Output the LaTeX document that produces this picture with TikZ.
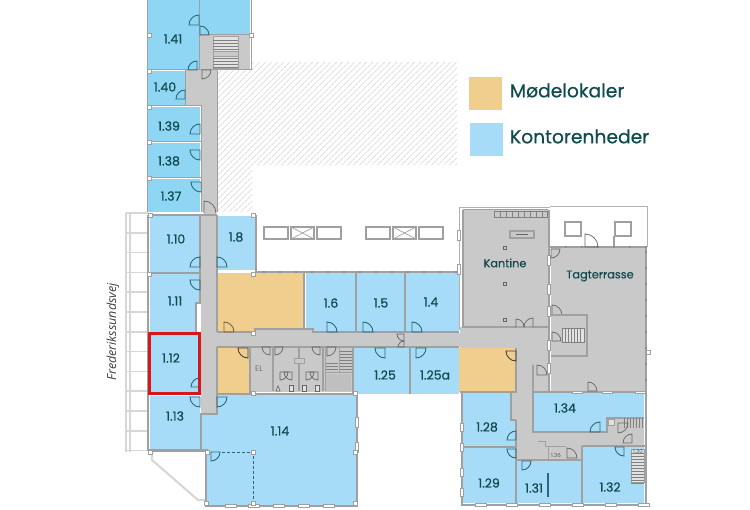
\documentclass[tikz,border=0pt]{standalone}
\usepackage{fontspec}
\setmainfont{Poppins}
\newfontfamily\labelfont{Poppins}[FakeBold=0.5]
\newfontfamily\streetfont{Open Sans}
\usetikzlibrary{patterns.meta}
\definecolor{kontorblue}{HTML}{A6DCF7}
\definecolor{topblue}{HTML}{8FD5F4}
\definecolor{moedeorange}{HTML}{F0CF8E}
\definecolor{floorgrey}{HTML}{C9C9C9}
\definecolor{stairgrey}{HTML}{E2E2E2}
\definecolor{wallgrey}{HTML}{A0A0A0}
\definecolor{railgrey}{HTML}{D6D6D6}
\definecolor{tealtext}{HTML}{0F4A4E}
\definecolor{doorteal}{HTML}{2A6A78}
\definecolor{markred}{HTML}{D8141C}
\tikzset{
	roomlabel/.style={text=tealtext, font=\labelfont\fontsize{12.5}{12.5}\selectfont},
	arealabel/.style={text=tealtext, font=\labelfont\fontsize{11.3}{11.3}\selectfont},
	biglabel/.style={text=tealtext, font=\labelfont\fontsize{18.7}{18.7}\selectfont},
	smalllabel/.style={text=black!65, font=\fontsize{5.5}{5.5}\selectfont},
	wall/.style={draw=wallgrey, line width=1.6pt},
	thinwall/.style={draw=wallgrey, line width=1pt},
	rail/.style={draw=railgrey, line width=1.6pt},
	door/.style={draw=doorteal, line width=0.9pt},
	greydoor/.style={draw=black!60, line width=0.7pt},
	tread/.style={draw=black!50, line width=0.35pt},
	pane/.style={draw=wallgrey, fill=white, line width=0.6pt},
	pillar/.style={draw=wallgrey, fill=white, line width=0.6pt}
}
% corner, start angle, end angle, radius
\def\swing[#1](#2,#3)(#4:#5:#6){\draw[#1] (#2,#3) -- ++(#4:#6) arc (#4:#5:#6) -- cycle;}

\begin{document}
\begin{tikzpicture}[x=1pt,y=-1pt]
	\useasboundingbox[fill=white] (0,0) rectangle (750,510);
	%%%%% HATCHED COURTYARD %%%%%
	\fill[pattern={Lines[angle=45,distance=4pt,line width=1pt]}, pattern color=black!13]
		(252,62) -- (457,62) -- (457,165) -- (252,165) -- (252,212) -- (218,212) -- (218,70) -- (252,70) -- cycle;

	%%%%% LEGEND %%%%%
	\fill[moedeorange] (469,77) rectangle (502,110);
	\fill[kontorblue] (470,123) rectangle (503,156);
	\node[biglabel, anchor=west] (legendmoede) at (506.5,90.5) {Mødelokaler};
	\node[biglabel, anchor=west] (legendkontor) at (506.5,136.5) {Kontorenheder};

	%%%%% NORTH WING %%%%%
	\fill[floorgrey] (199,35) rectangle (250,70);
	\fill[floorgrey] (185,70) rectangle (217,106);
	\fill[floorgrey] (202,106) rectangle (217,212);
	\fill[topblue] (147,0) rectangle (199,69);
	\fill[topblue] (199,0) rectangle (250,34);
	\fill[topblue] (147,71) rectangle (185,105);
	\fill[topblue] (147,107) rectangle (200,141);
	\fill[topblue] (147,143) rectangle (200,177);
	\fill[topblue] (147,179) rectangle (200,212);
	\draw[thinwall] (147,0) -- (147,212);
	\draw[thinwall] (199,0) -- (199,69);
	\draw[thinwall] (251,0) -- (251,70) -- (199,70);
	\draw[thinwall] (199,35) -- (251,35);
	\draw[thinwall] (147,70) -- (199,70);
	\draw[thinwall] (185,70) -- (185,106) (147,106) -- (201,106) -- (201,212);
	\draw[thinwall] (147,142) -- (201,142) (147,178) -- (201,178);
	\draw[thinwall] (217,70) -- (217,212);
	% stairs, north wing
	\draw[thinwall, fill=stairgrey] (213,37) rectangle (238,69);
	\foreach \y in {40,43,...,68}
		\draw[tread] (213,\y) -- (238,\y);
	\draw[thinwall, fill=floorgrey] (213,52) rectangle (238,57);
	\swing[door](199,25)(180:270:10)
	\swing[door](200,35)(270:360:9)
	\swing[door](197,70)(180:270:9)
	\swing[greydoor](202,70)(0:90:9)
	\swing[door](185,99)(180:270:9)
	\swing[door](200,134)(180:270:10)
	\swing[door](200,150)(90:180:10)
	\swing[door](201,182)(90:180:10)
	\swing[greydoor](204,213)(270:360:12)
	\node[roomlabel] (r141) at (173,39) {1.41};
	\node[roomlabel] (r140) at (165,87) {1.40};
	\node[roomlabel] (r139) at (169,126) {1.39};
	\node[roomlabel] (r138) at (169,161) {1.38};
	\node[roomlabel] (r137) at (171,196) {1.37};

	%%%%% RAILING %%%%%
	\foreach \y in {213,232.8,...,452}
		\draw[rail] (126,\y) -- (148,\y);
	\draw[rail] (126,213) -- (126,452) (130,213) -- (130,452);
	\draw[rail, line width=2pt] (152,452) -- (152,460) -- (198,500) -- (206,500);
	\draw[thinwall] (150,452) -- (207,452);

	%%%%% WEST WING %%%%%
	\fill[floorgrey] (201,215) rectangle (217,414);
	\fill[kontorblue] (150,216) rectangle (200,272);
	\fill[kontorblue] (218,216) rectangle (255,270);
	\fill[kontorblue] (150,274) -- (200,274) -- (200,303) -- (196,303) -- (196,332) -- (150,332) -- cycle;
	\fill[kontorblue] (150,333) rectangle (200,394);
	\fill[kontorblue] (150,396) rectangle (200,449);
	\fill[moedeorange] (217,273) rectangle (303,332);
	\fill[moedeorange] (218,348) rectangle (250,394);
	\fill[floorgrey] (251,347) rectangle (352,392);
	\fill[kontorblue] (202,414) -- (217,414) -- (217,395) -- (357,395) -- (357,505) -- (206,505) -- (206,452) -- (202,449) -- cycle;
	\fill[kontorblue] (306,273) rectangle (355,332);
	\fill[kontorblue] (357,273) rectangle (404,332);
	\fill[kontorblue] (406,273) rectangle (459,332);
	\fill[kontorblue] (354,348) rectangle (409,394);
	\fill[kontorblue] (411,348) rectangle (459,394);
	\fill[moedeorange] (459,348) rectangle (516,392);
	\fill[floorgrey] (217,333) rectangle (460,347);
	\fill[floorgrey] (255,329) rectangle (313,333);

	\draw[wall] (148,215) -- (148,450) -- (208,450);
	\draw[wall] (149,215) -- (217,215);
	\draw[wall] (200,216) -- (200,303) -- (196,303) -- (196,332);
	\draw[wall] (149,273) -- (200,273);
	\draw[wall] (217,215) -- (217,332) (217,347) -- (217,414) -- (201,414) -- (201,449);
	\draw[wall] (256,215) -- (256,272) -- (459,272);
	\draw[wall] (217,332) -- (255,332) -- (255,329) -- (313,329) -- (313,332) -- (459,332);
	\draw[wall] (304,272) -- (304,329) (356,272) -- (356,332) (405,272) -- (405,332);
	\draw[wall] (217,347) -- (459,347) (250,347) -- (250,394);
	\draw[wall] (217,394) -- (357,394);
	\draw[wall] (410,347) -- (410,394) (353,347) -- (353,394);
	\draw[wall] (357,394) -- (357,506) -- (206,506) -- (206,452);
	\draw[door, densely dashed, line width=0.8pt] (222,452) -- (253,452) -- (253,503);

	% windows and pillars, west wing
	\foreach \x in {225,248,273,298,323}
		\draw[pane] (\x,504.5) rectangle (\x+11,507);
	\foreach \y in {417,442}
		\draw[pane] (355.5,\y) rectangle (358.5,\y+10);
	\foreach \p in {(150,215),(253,215),(149,274),(253,274),(253,333),(253,393),(150,452),(207,452),(253,452),(206,503),(253,503),(355,503),(355,452),(355,393),(149,35),(149,71),(149,107),(149,142),(149,178),(251,35)}
		\draw[pillar] \p ++(-2,-2) rectangle ++(4,4);
	\foreach \x in {264,280,...,456}
		\fill[black!70] (\x,272) circle (0.6);

	% door leaves, west wing
	\swing[door](200,267)(180:270:10)
	\swing[door](217,267)(270:360:10)
	\swing[door](200,280)(90:180:10)
	\swing[door](200,387)(180:270:9)
	\swing[door](200,397)(90:180:10)
	\swing[door](217,397)(0:90:10)
	\swing[draw=black!50!moedeorange, line width=0.9pt](224,332)(270:360:10)
	\swing[door, draw=black!75](248,348)(90:180:10)
	\swing[door](211,452)(0:90:9)
	\swing[door](327,332)(270:360:10)
	\swing[door](363,332)(270:360:10)
	\swing[door](412,332)(270:360:10)
	\swing[door](385,348)(90:180:10)
	\swing[door](416,348)(0:90:10)
	\swing[greydoor](404,334)(180:90:7)
	\swing[greydoor](404,347)(180:270:6)

	%%%%% TOILETS %%%%%
	\draw[wall] (273,347) -- (273,391) (299,347) -- (299,391) (323,347) -- (323,391);
	\draw[thinwall, fill=floorgrey] (294,359) rectangle (304,364);
	\foreach \x in {291,304,317}
		\draw[greydoor, fill=stairgrey] (\x-2,385) rectangle (\x+2,391);
	\draw[greydoor, fill=stairgrey] (276,391) -- (278,386) -- (280,391) -- cycle;
	\foreach \x in {280,306}{
		\swing[greydoor](\x,372)(0:90:8)
		\swing[greydoor](\x+12,372)(90:180:8)
	}
	\swing[greydoor](270,347)(90:180:8)
	\swing[greydoor](275,347)(0:90:8)
	\swing[greydoor](320,347)(90:180:8)
	\swing[greydoor](327,347)(0:90:9)
	\node[text=black!55, font=\fontsize{8}{8}\selectfont] (elroom) at (259,369) {EL};
	% stairs beside the toilets
	\foreach \y in {351,354,...,372}
		\draw[tread] (340,\y) -- (352,\y);
	\foreach \y in {363,366,...,372}
		\draw[tread] (326,\y) -- (338,\y);
	\draw[thinwall] (325,373) -- (352,373) (339,347) -- (339,373) (325,347) -- (325,391);
	\fill[black!5!floorgrey] (326,374) rectangle (351,391);

	%%%%% SKYLIGHTS %%%%%
	\foreach \x in {264,366}{
		\draw[wall, line width=2pt] (\x,227) rectangle (\x+24,239);
		\draw[wall, line width=2pt] (\x+27,227) rectangle (\x+50,239);
		\draw[wall, line width=2pt] (\x+53,227) rectangle (\x+77,239);
		\draw[thinwall, line width=0.7pt] (\x+27,227) -- (\x+50,239) (\x+50,227) -- (\x+27,239);
	}

	%%%%% KANTINE %%%%%
	\fill[floorgrey] (463,210) rectangle (548,327);
	\fill[floorgrey] (460,327) rectangle (549,348);
	\fill[floorgrey] (516,348) rectangle (549,392);
	\fill[floorgrey] (512,392) -- (533,392) -- (533,432) -- (607,432) -- (607,418) -- (644,418) -- (644,446) -- (582,446) -- (582,460) -- (516,460) -- (516,420) -- (512,420) -- cycle;
	\fill[floorgrey] (551,247) rectangle (646,392);
	\fill[floorgrey] (533,365) rectangle (550,392);
	\draw[thinwall, draw=black!30] (550,208) -- (459,208) -- (459,330);
	\draw[wall] (463,210) -- (463,327) -- (516,327) (533,327) -- (549,327);
	\draw[thinwall] (463,210) -- (548,210);
	\draw[wall] (549,210) -- (549,392);
	\foreach \y in {255,284,306,340,363}
		\draw[pane] (547.5,\y) rectangle (550.5,\y+10);
	\foreach \y in {230,264}
		\draw[pane] (457.5,\y) rectangle (460.5,\y+10);
	\foreach \x in {500,506,...,542}
		\draw[tread, line width=0.5pt] (\x,211) -- (\x,217);
	\draw[tread, line width=0.5pt] (494,211) rectangle (547,217);
	\draw[wall, fill=floorgrey] (510,231) rectangle (534,238);
	\draw[greydoor] (516,234.5) -- (528,234.5);
	\foreach \y in {249,285,321}
		\draw[greydoor, line width=0.5pt] (503,\y) rectangle (506,\y-3);
	\swing[greydoor](516,327)(270:360:8)
	\swing[greydoor](533,327)(180:270:9)
	\node[arealabel] (kantine) at (505,263) {Kantine};

	%%%%% TAGTERRASSE %%%%%
	\draw[thinwall, draw=black!30] (550,207) -- (647,207) -- (647,247);
	\draw[wall, line width=2pt] (565,222) rectangle (581,236);
	\draw[wall, line width=2pt] (615,222) rectangle (631,236);
	\draw[wall] (550,247) -- (646,247) -- (646,392);
	\draw[wall] (614,236) -- (614,247);
	\swing[greydoor](585,247)(270:360:13)
	\swing[greydoor](551,249)(0:90:9)
	\swing[greydoor](552,315)(270:360:10)
	\draw[wall] (551,315) -- (587,315) -- (587,356) -- (551,356);
	\draw[tread, fill=stairgrey, line width=0.5pt] (562,328) rectangle (584,342);
	\foreach \x in {565,568,...,582}
		\draw[tread, line width=0.5pt] (\x,328) -- (\x,342);
	\swing[greydoor](552,341)(270:360:9)
	\node[arealabel] (tagterrasse) at (600,276) {Tagterrasse};
	\draw[thinwall] (646,351) rectangle (650,355);
	\foreach \y in {252,268,...,392}
		\fill[black!70] (646,\y) circle (0.6);
	\foreach \x in {566,582,...,646}
		\fill[black!70] (\x,247) circle (0.6);

	%%%%% SOUTH EAST %%%%%
	\fill[kontorblue] (463,393) -- (510,393) -- (510,420) -- (515,420) -- (515,446) -- (463,446) -- cycle;
	\fill[kontorblue] (463,448) rectangle (515,503);
	\fill[kontorblue] (517,461) rectangle (581,503);
	\fill[kontorblue] (583,447) -- (644,447) -- (644,450) -- (631,450) -- (631,483) -- (644,483) -- (644,503) -- (583,503) -- cycle;
	\fill[kontorblue] (534,393) -- (644,393) -- (644,418) -- (607,418) -- (607,431) -- (534,431) -- cycle;
	\draw[wall] (533,365) -- (533,392) (533,392) -- (533,432) -- (607,432) -- (607,418) -- (644,418);
	\draw[wall] (533,392) -- (646,392) (646,392) -- (646,505);
	\draw[wall] (516,392) -- (511,392) -- (511,420) -- (516,420);
	\draw[wall] (516,348) -- (516,392) -- (460,392);
	\draw[wall] (462,393) -- (462,505) -- (646,505);
	\draw[wall] (462,447) -- (516,447) (516,420) -- (516,505);
	\draw[wall] (516,460) -- (582,460) (582,446) -- (582,505) (582,446) -- (646,446);
	\draw[door, line width=1.3pt] (548,473) -- (548,497);
	\draw[thinwall, fill=stairgrey] (631,450) rectangle (644,483);
	\foreach \y in {453,456,...,483}
		\draw[tread] (631,\y) -- (644,\y);
	\draw[thinwall] (538,442) -- (545,442) -- (545,447) -- (566,447) (548,447) -- (548,460);
	\draw[thinwall, fill=stairgrey] (608,420) rectangle (614,426);
	\foreach \x in {624,627,...,642}
		\draw[tread] (\x,418) -- (\x,428);
	\foreach \x in {475,506,539,572,605,638}
		\draw[pane] (\x,503.5) rectangle (\x+11,506);
	\foreach \y in {423,443,468,488}
		\draw[pane] (460.5,\y) rectangle (463.5,\y+8);
	\foreach \x in {572,602,635}
		\draw[pane] (\x,391) rectangle (\x+10,393.5);
	\swing[door](516,440)(180:270:9)
	\swing[door](516,449)(90:180:9)
	\swing[door](522,461)(0:90:9)
	\swing[door](600,432)(180:270:10)
	\swing[greydoor](588,391)(270:360:9)
	\swing[door](624,447)(90:180:9)
	\swing[greydoor](618,423)(0:90:10)
	\swing[greydoor](632,443)(180:270:9)
	\swing[greydoor](567,458)(270:360:10)
	\swing[greydoor](537,375)(270:360:10)
	\swing[door, draw=black!75](516,351)(90:180:10)
	\node[roomlabel] (r110) at (176,239) {1.10};
	\node[roomlabel] (r18) at (236,237) {1.8};
	\node[roomlabel] (r111) at (175,301) {1.11};
	\node[roomlabel] (r112) at (171,358) {1.12};
	\node[roomlabel] (r113) at (175,416) {1.13};
	\node[roomlabel] (r114) at (280,431) {1.14};
	\node[roomlabel] (r16) at (331,303) {1.6};
	\node[roomlabel] (r15) at (381,303) {1.5};
	\node[roomlabel] (r14) at (431,302) {1.4};
	\node[roomlabel] (r125) at (385,375) {1.25};
	\node[roomlabel] (r125a) at (435,375) {1.25a};
	\node[roomlabel] (r134) at (565,408) {1.34};
	\node[roomlabel] (r128) at (487,427) {1.28};
	\node[roomlabel] (r129) at (489,483) {1.29};
	\node[roomlabel] (r131) at (534,488) {1.31};
	\node[roomlabel] (r132) at (610,487) {1.32};
	\node[smalllabel] (r136) at (556,455) {1.36};
	\node[smalllabel] (r130) at (638,451) {1.30};

	%%%%% SELECTED ROOM AND STREET %%%%%
	\draw[draw=markred, line width=3pt] (149.5,333.5) rectangle (199,394);
	\node[rotate=90, text=black!75, font=\streetfont\itshape\fontsize{12.5}{12.5}\selectfont] (street) at (113,332) {Frederikssundsvej};
\end{tikzpicture}
\end{document}
